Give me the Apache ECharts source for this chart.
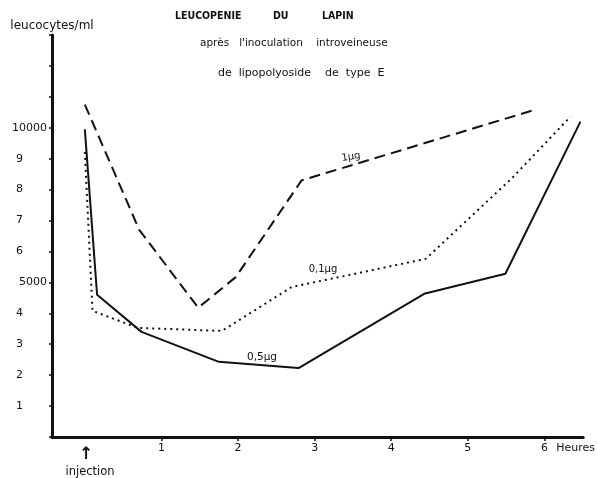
<!DOCTYPE html>
<html><head><meta charset="utf-8">
<script src="https://cdn.jsdelivr.net/npm/echarts@6/dist/echarts.min.js"></script>
<style>html,body{margin:0;padding:0;background:#fff}#c{width:598px;height:478px}</style>
</head><body><div id="c"></div>
<script>
// Data (hours after injection, leucocytes/ml)
const hours1ug = [0, 0.71, 1.48, 1.97, 2.83, 5.9];
const values1ug = [10750, 6700, 4180, 5170, 8300, 10600];
const hours01ug = [0, 0.1, 0.69, 1.79, 2.7, 4.45, 5.58, 6.34];
const values01ug = [9220, 4080, 3530, 3430, 4850, 5760, 8380, 10360];
const hours05ug = [0, 0.16, 0.74, 1.75, 2.79, 4.43, 5.49, 6.47];
const values05ug = [9950, 4600, 3400, 2430, 2230, 4630, 5280, 10200];
const xTicks = [1, 2, 3, 4, 5, 6];
const seriesNames = ['1µg', '0,1µg', '0,5µg'];

const FONT = 'DejaVu Sans';
const COND = '"DejaVu Sans Condensed", "DejaVu Sans"';
const pair = (h, v) => h.map((x, i) => [x, v[i]]);

const chart = echarts.init(document.getElementById('c'));
chart.setOption({
  animation: false,
  backgroundColor: '#fff',
  grid: { left: 52, right: 12, top: 35, bottom: 41, containLabel: false },
  xAxis: {
    type: 'value', min: -0.4286, max: 6.506,
    name: 'Heures', nameLocation: 'end', nameGap: -27,
    nameTextStyle: { fontFamily: FONT, fontSize: 11, color: '#111', verticalAlign: 'top', padding: [6, 0, 0, 0] },
    axisLine: { show: true, onZero: false, lineStyle: { color: '#111', width: 3 } },
    axisTick: { show: true, customValues: xTicks, length: 4, lineStyle: { color: '#111', width: 1.5 } },
    axisLabel: { customValues: xTicks, fontFamily: FONT, fontSize: 11, color: '#111', margin: 6 },
    splitLine: { show: false }
  },
  yAxis: {
    type: 'value', min: 0, max: 13000, interval: 1000,
    name: 'leucocytes/ml', nameLocation: 'end', nameGap: 3,
    nameTextStyle: { fontFamily: FONT, fontSize: 12, color: '#111', align: 'center' },
    axisLine: { show: true, onZero: false, lineStyle: { color: '#111', width: 3 } },
    axisTick: { show: true, inside: false, length: 3, lineStyle: { color: '#111', width: 1.5 } },
    axisLabel: {
      fontFamily: FONT, fontSize: 11, color: '#111', margin: 5,
      formatter: v => {
        if (v === 0 || v > 10000) return '';
        if (v === 5000 || v === 10000) return String(v);
        return '{d|' + (v / 1000) + '}';
      },
      rich: { d: { fontFamily: FONT, fontSize: 11, color: '#111', padding: [0, 24, 0, 0] } }
    },
    splitLine: { show: false }
  },
  series: [
    { name: seriesNames[0], type: 'line', data: pair(hours1ug, values1ug), showSymbol: false, symbol: 'none',
      lineStyle: { color: '#111', width: 2, type: [11, 6] } },
    { name: seriesNames[1], type: 'line', data: pair(hours01ug, values01ug), showSymbol: false, symbol: 'none',
      lineStyle: { color: '#111', width: 2, type: [2, 4] } },
    { name: seriesNames[2], type: 'line', data: pair(hours05ug, values05ug), showSymbol: false, symbol: 'none',
      lineStyle: { color: '#111', width: 2 } }
  ],
  graphic: [
    { type: 'text', left: 175, top: 11, style: { text: 'LEUCOPENIE', font: 'bold 10.5px ' + COND, fill: '#111' } },
    { type: 'text', left: 273, top: 11, style: { text: 'DU', font: 'bold 10.5px ' + COND, fill: '#111' } },
    { type: 'text', left: 322, top: 11, style: { text: 'LAPIN', font: 'bold 10.5px ' + COND, fill: '#111' } },
    { type: 'text', left: 200, top: 38, style: { text: "après   l'inoculation    introveineuse", font: '10.5px ' + FONT, fill: '#111' } },
    { type: 'text', left: 218, top: 68, style: { text: 'de  lipopolyoside    de  type  E', font: '11px ' + FONT, fill: '#111' } },
    { type: 'text', x: 351, y: 157, rotation: 0.15, style: { text: seriesNames[0], font: '10px ' + FONT, fill: '#111', align: 'center', verticalAlign: 'middle' } },
    { type: 'text', x: 323, y: 269, style: { text: seriesNames[1], font: '10px ' + FONT, fill: '#111', align: 'center', verticalAlign: 'middle' } },
    { type: 'text', x: 262, y: 357, style: { text: seriesNames[2], font: '10.5px ' + FONT, fill: '#111', align: 'center', verticalAlign: 'middle' } },
    { type: 'text', x: 86, y: 455, style: { text: '↑', font: 'bold 17px ' + FONT, fill: '#111', align: 'center', verticalAlign: 'middle' } },
    { type: 'text', x: 90, y: 472, style: { text: 'injection', font: '11.5px ' + FONT, fill: '#111', align: 'center', verticalAlign: 'middle' } }
  ]
});
</script></body></html>
